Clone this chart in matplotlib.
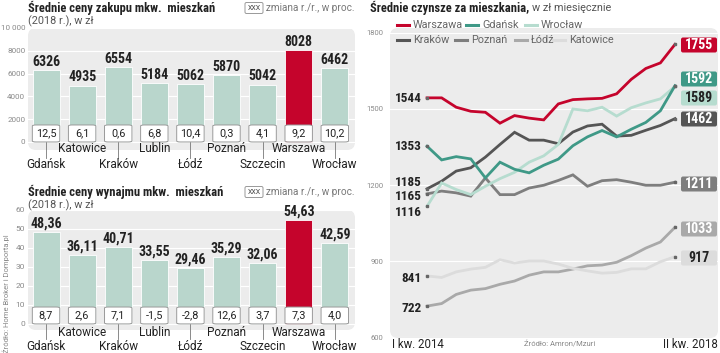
import matplotlib
matplotlib.use("Agg")
import matplotlib.pyplot as plt
from matplotlib import font_manager
from matplotlib.patches import FancyBboxPatch
import matplotlib.transforms as mtrans

# dane - ceny zakupu i wynajmu (2018)
miasta = ["Gdańsk", "Katowice", "Kraków", "Lublin", "Łódź", "Poznań",
          "Szczecin", "Warszawa", "Wrocław"]
zakup = [6326, 4935, 6554, 5184, 5062, 5870, 5042, 8028, 6462]
zakup_zm = ["12,5", "6,1", "0,6", "6,8", "10,4", "0,3", "4,1", "9,2", "10,2"]
wynajem = [48.36, 36.11, 40.71, 33.55, 29.46, 35.29, 32.06, 54.63, 42.59]
wynajem_zm = ["8,7", "2,6", "7,1", "-1,5", "-2,8", "12,6", "3,7", "7,3", "4,0"]

# czynsze kwartalne, I kw. 2014 - II kw. 2018
kwartaly = list(range(18))
warszawa = [1544, 1544, 1507, 1491, 1487, 1444, 1474, 1464, 1457, 1520, 1537,
            1540, 1542, 1560, 1617, 1660, 1682, 1755]
gdansk = [1353, 1299, 1312, 1303, 1228, 1290, 1262, 1248, 1278, 1302, 1355,
          1390, 1415, 1390, 1420, 1447, 1493, 1592]
wroclaw = [1116, 1208, 1182, 1162, 1195, 1225, 1250, 1290, 1315, 1360, 1500,
           1493, 1507, 1472, 1505, 1524, 1540, 1589]
krakow = [1185, 1215, 1255, 1268, 1310, 1360, 1408, 1377, 1377, 1363, 1409,
          1433, 1440, 1393, 1396, 1416, 1435, 1462]
poznan = [1165, 1176, 1169, 1156, 1228, 1162, 1162, 1188, 1199, 1218, 1240,
          1195, 1217, 1221, 1211, 1199, 1199, 1211]
lodz = [722, 732, 768, 785, 791, 808, 821, 844, 857, 857, 868, 881, 884, 895,
        921, 951, 975, 1033]
katowice = [841, 835, 857, 868, 875, 905, 892, 900, 900, 888, 871, 861, 852,
            855, 869, 869, 897, 917]

W, H = 720, 353

# waska czcionka, jesli jest
dostepne = {f.name for f in font_manager.fontManager.ttflist}
WASKA = "Roboto"
for kand in ["Roboto Condensed", "DejaVu Sans Condensed",
             "Liberation Sans Narrow"]:
    if kand in dostepne:
        WASKA = kand
        break
NARROW = [WASKA, "DejaVu Sans"]
ZWYKLA = ["Roboto", "DejaVu Sans"]
plt.rcParams["font.family"] = NARROW

CZERW = "#c5042c"
SZARO_TLO = "#ececec"
BAR = "#b9d6cc"
CIEMNY = "#222222"

fig = plt.figure(figsize=(W / 100, H / 100), dpi=100)

# nakladki w pikselach: tlo i teksty
bg = fig.add_axes([0, 0, 1, 1], zorder=0)
bg.set_xlim(0, W)
bg.set_ylim(H, 0)
bg.axis("off")
fg = fig.add_axes([0, 0, 1, 1], zorder=5)
fg.set_xlim(0, W)
fg.set_ylim(H, 0)
fg.axis("off")
fg.patch.set_alpha(0)


def osie(l, t, r, b):
    a = fig.add_axes([l / W, 1 - b / H, (r - l) / W, (b - t) / H], zorder=2)
    a.patch.set_alpha(0)
    for s in a.spines.values():
        s.set_visible(False)
    a.tick_params(length=0, labelsize=6, labelcolor="#8a8a8a", pad=2)
    return a


def tlo(l, t, r, b):
    bg.add_patch(FancyBboxPatch((l, t), r - l, b - t,
                                boxstyle="round,pad=0,rounding_size=8",
                                fc=SZARO_TLO, ec="none"))


def slupki(ax, wart, zmiany, ymax, krok, boxh, fmt, y_odd, y_even, y_box):
    x = list(range(len(wart)))
    kol = [CZERW if m == "Warszawa" else BAR for m in miasta]
    ax.bar(x, wart, width=0.75, color=kol, edgecolor="white", lw=0.6,
           zorder=2)
    ax.set_xlim(-0.5, 8.56)
    ax.set_yticks(list(range(0, ymax + 1, krok)))
    ax.yaxis.grid(True, color="white", lw=0.8, zorder=1)
    ax.set_axisbelow(True)
    ax.set_xticks([])
    for i, v in enumerate(wart):
        ax.text(i, v + ymax * 0.012, fmt(v), ha="center", va="bottom",
                fontsize=10, fontweight="bold", color=CIEMNY, zorder=4)
        ax.add_patch(FancyBboxPatch((i - 0.38, 0), 0.76, boxh,
                                    boxstyle="round,pad=0,rounding_size=0.1",
                                    mutation_aspect=boxh / 0.76 * 0.45,
                                    fc="white", ec="#9a9a9a", lw=0.7,
                                    zorder=3))
        ax.text(i, boxh / 2, zmiany[i], ha="center", va="center",
                fontsize=7.8, color=CIEMNY, zorder=4, family=ZWYKLA)
    tr = mtrans.blended_transform_factory(ax.transData, fg.transData)
    for i, m in enumerate(miasta):
        if i % 2:
            ax.text(i, y_odd, m, transform=tr, ha="center", va="center",
                    fontsize=8.5, color=CIEMNY, family=ZWYKLA)
        else:
            ax.text(i, y_even, m, transform=tr, ha="center", va="center",
                    fontsize=8.5, color=CIEMNY, family=ZWYKLA)
            ax.plot([i, i], [y_box, y_even - 7], transform=tr,
                    color="#777777", lw=0.6, clip_on=False)


def naglowek(y, tytul):
    fg.text(28, y, tytul, fontsize=9, fontweight="bold", color=CIEMNY,
            va="center")
    fg.text(28, y + 13, "(2018 r.), w zł", fontsize=7.8, color="#555555",
            va="center", family=ZWYKLA)
    fg.add_patch(FancyBboxPatch((245, y - 5.5), 18, 11,
                                boxstyle="round,pad=0,rounding_size=1.5",
                                fc="white", ec="#999999", lw=0.7))
    fg.text(254, y, "XXX", fontsize=5, ha="center", va="center",
            color="#444444", family=ZWYKLA)
    fg.text(266, y, "zmiana r./r., w proc.", fontsize=7.2, va="center",
            color="#777777", family=ZWYKLA)


# --- zakup ---
tlo(28, 28, 355, 150)
ax1 = osie(28, 28, 355, 148.8)
ax1.set_ylim(-600, 10000)
slupki(ax1, zakup, zakup_zm, 10000, 2000, 1490, lambda v: f"{v}",
       148, 165, 142)
ax1.set_yticklabels(["0", "2000", "4000", "6000", "8000", "10 000"],
                    family=ZWYKLA, fontsize=5.8)
naglowek(8, "Średnie ceny zakupu mkw.  mieszkań")

# --- wynajem ---
tlo(28, 210, 355, 330)
ax2 = osie(28, 210, 355, 330)
ax2.set_ylim(-3.2, 60)
slupki(ax2, wynajem, wynajem_zm, 60, 10, 8.9,
       lambda v: f"{v:.2f}".replace(".", ","), 332, 346, 324)
ax2.set_yticklabels([str(v) for v in range(0, 61, 10)], family=ZWYKLA)
naglowek(192, "Średnie ceny wynajmu mkw.  mieszkań")

fg.text(6, 294, "Źródło: Home Broker i Domporta.pl", rotation=90,
        fontsize=5.5, color="#888888", ha="center", va="center",
        family=ZWYKLA)

# --- czynsze ---
tlo(390, 28, 718, 338)
ax3 = osie(390, 33, 718, 337)
ax3.set_ylim(600, 1800)
ax3.set_xlim(-2.54, 19.95)
ax3.set_yticks([600, 900, 1200, 1500, 1800])
ax3.set_yticklabels(["600", "900", "1200", "1500", "1800"], family=ZWYKLA)
ax3.set_xticks([])
ax3.yaxis.grid(True, color="white", lw=0.8)
ax3.set_axisbelow(True)
ax3.tick_params(labelsize=5.5, pad=5)

serie = [
    ("Łódź", lodz, "#a9a9a9", "white"),
    ("Katowice", katowice, "#dcdcdc", CIEMNY),
    ("Poznań", poznan, "#7e7e7e", "white"),
    ("Kraków", krakow, "#555555", "white"),
    ("Wrocław", wroclaw, "#b6dccf", CIEMNY),
    ("Gdańsk", gdansk, "#3f9987", "white"),
    ("Warszawa", warszawa, CZERW, "white"),
]
# pozycje etykiet (px)
koniec_px = {"Warszawa": 45, "Gdańsk": 79, "Wrocław": 98, "Kraków": 119,
             "Poznań": 184, "Łódź": 229, "Katowice": 258}
start_px = {"Warszawa": 99, "Gdańsk": 147, "Kraków": 183, "Poznań": 196.5,
            "Wrocław": 213, "Katowice": 278, "Łódź": 308}

for nazwa, dane, kol, tkol in serie:
    ax3.plot(kwartaly, dane, color=kol, lw=2, solid_joinstyle="miter",
             zorder=3)
    ax3.plot([kwartaly[0], kwartaly[-1]], [dane[0], dane[-1]], "s",
             color="#666666", ms=2, zorder=4)
    yk = koniec_px[nazwa]
    fg.add_patch(FancyBboxPatch((681, yk - 7.5), 36, 15,
                                boxstyle="round,pad=0,rounding_size=2",
                                fc=kol, ec="none"))
    fg.text(699, yk, str(dane[-1]), ha="center", va="center", fontsize=10,
            fontweight="bold", color=tkol)
    fg.text(422, start_px[nazwa], str(dane[0]), ha="right", va="center",
            fontsize=9.5, fontweight="bold", color=CIEMNY)

# tytul i legenda
t3 = fg.text(370, 8, "Średnie czynsze za mieszkania,", fontsize=9,
             fontweight="bold", color=CIEMNY, va="center")
fig.canvas.draw()
prawy = t3.get_window_extent().x1
fg.text(prawy + 3, 8, "w zł miesięcznie", fontsize=7.8, color="#555555",
        va="center", family=ZWYKLA)
kol_leg = {n: k for n, _, k, _ in serie}
leg = [("Warszawa", 397, 25), ("Gdańsk", 466, 25), ("Wrocław", 525, 25),
       ("Kraków", 397, 40), ("Poznań", 455, 40), ("Łódź", 515, 40),
       ("Katowice", 553, 40)]
for n, lx, ly in leg:
    fg.plot([lx, lx + 12], [ly, ly], color=kol_leg[n], lw=2.2)
    fg.text(lx + 16, ly, n, fontsize=7.8, color="#666666", va="center",
            family=ZWYKLA)

fg.text(392, 345, "I kw. 2014", fontsize=8.3, color=CIEMNY, va="center",
        family=ZWYKLA)
fg.text(718, 345, "II kw. 2018", fontsize=8.3, color=CIEMNY, va="center",
        ha="right", family=ZWYKLA)
fg.text(560, 344, "Źródło: Amron/Mzuri", fontsize=5.5, color="#888888",
        va="center", ha="center", family=ZWYKLA)

fig.savefig("out.png", dpi=100)
